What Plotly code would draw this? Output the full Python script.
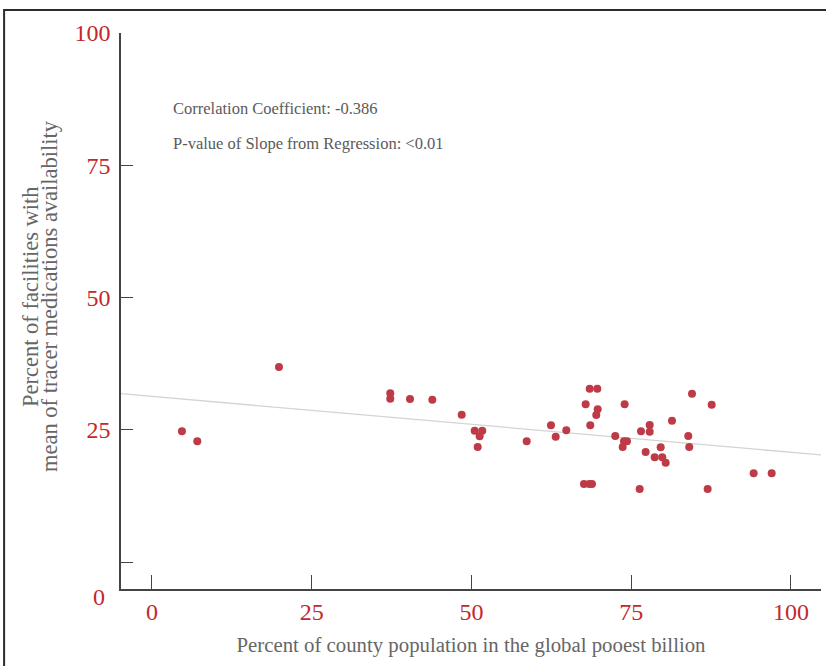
import plotly.graph_objects as go

# Share of each county's population in the global poorest billion (%)
pct_poorest_billion = [
    4.69, 7.09, 19.87, 37.29, 37.29, 40.38, 43.87, 48.47, 50.50, 51.69,
    51.28, 50.97, 58.64, 62.44, 63.18, 64.84, 67.87, 68.50, 69.69, 69.75,
    69.53, 68.59, 67.61, 68.44, 68.86, 73.97, 72.50, 73.87, 74.34, 73.66,
    76.53, 77.89, 77.89, 77.26, 78.67, 79.61, 79.86, 80.39, 76.32, 81.38,
    84.51, 87.59, 83.93, 84.08, 86.96, 94.16, 96.98,
]
# Percent of facilities with mean tracer medication availability
pct_facilities = [
    24.75, 22.87, 36.90, 31.93, 30.91, 30.86, 30.72, 27.89, 24.87, 24.87,
    23.81, 21.79, 22.87, 25.89, 23.73, 24.94, 29.86, 32.80, 32.80, 28.91,
    27.83, 25.89, 14.80, 14.80, 14.80, 29.86, 23.87, 22.87, 22.87, 21.79,
    24.75, 25.94, 24.68, 20.84, 19.84, 21.73, 19.84, 18.82, 13.85, 26.76,
    31.86, 29.78, 23.87, 21.79, 13.85, 16.82, 16.82,
]

# Fitted regression line
reg_intercept = 31.34
reg_slope = -0.1055

x_ticks = [0, 25, 50, 75, 100]
y_ticks = [0, 25, 50, 75, 100]
y_tick_text = ["", "25", "50", "75", "100"]

x_range = [-4.85, 104.7]
y_range = [-5.04, 100]

stats_lines = [
    "Correlation Coefficient: -0.386",
    "P-value of Slope from Regression: <0.01",
]
y_title_lines = [
    "Percent of facilities with",
    "mean of tracer medications availability",
]

FONT = "Liberation Serif, Times New Roman, serif"
RED = "#c4282d"
GREY = "#5a5a5a"
TITLE_GREY = "#666666"
AXIS = "#444444"

fig = go.Figure()

fig.add_trace(go.Scatter(
    x=x_range,
    y=[reg_intercept + reg_slope * v for v in x_range],
    mode="lines",
    line=dict(color="#d4d4d4", width=1.3),
    hoverinfo="skip",
    showlegend=False,
))

fig.add_trace(go.Scatter(
    x=pct_poorest_billion,
    y=pct_facilities,
    mode="markers",
    marker=dict(color="#bf3a47", size=8, line=dict(width=0)),
    showlegend=False,
))

fig.update_layout(
    width=826,
    height=666,
    margin=dict(l=121, r=5, t=33, b=77),
    paper_bgcolor="white",
    plot_bgcolor="white",
    font=dict(family=FONT, color=GREY),
    xaxis=dict(
        range=x_range,
        tickvals=x_ticks,
        ticks="inside",
        ticklen=14,
        tickwidth=1,
        tickcolor=AXIS,
        showline=True,
        linecolor=AXIS,
        linewidth=1.5,
        showgrid=False,
        zeroline=False,
        tickfont=dict(family=FONT, size=24, color=RED),
        ticklabelstandoff=0,
        title=dict(
            text="Percent of county population in the global pooest billion",
            font=dict(family=FONT, size=20.8, color=TITLE_GREY),
            standoff=14,
        ),
    ),
    yaxis=dict(
        range=y_range,
        tickvals=y_ticks,
        ticktext=y_tick_text,
        ticks="inside",
        ticklen=12,
        tickwidth=1,
        tickcolor=AXIS,
        showline=True,
        linecolor=AXIS,
        linewidth=1.5,
        showgrid=False,
        zeroline=False,
        tickfont=dict(family=FONT, size=24, color=RED),
        ticklabelstandoff=4,
    ),
)

# Vertical axis title, one rotated line per annotation
for i, line in enumerate(y_title_lines):
    fig.add_annotation(
        x=-0.1286 + i * 0.0272, y=0.527, xref="paper", yref="paper",
        text=line, textangle=-90, showarrow=False,
        xanchor="center", yanchor="middle",
        font=dict(family=FONT, size=22.5, color=TITLE_GREY),
    )

# Zero label of the vertical axis, sitting below the axis corner
fig.add_annotation(
    x=-0.0314, y=-0.0144, xref="paper", yref="paper",
    text="0", showarrow=False, xanchor="center", yanchor="middle",
    font=dict(family=FONT, size=24, color=RED),
)

# Statistics text
for i, line in enumerate(stats_lines):
    fig.add_annotation(
        x=0.0714, y=0.8651 - i * 0.063, xref="paper", yref="paper",
        text=line, showarrow=False, xanchor="left", yanchor="middle",
        font=dict(family=FONT, size=16.5, color=GREY),
    )

# Dark frame around the figure
fig.add_shape(
    type="path", xref="paper", yref="paper",
    path="M -0.167,-0.3 L -0.167,1.0414 L 1.2,1.0414",
    line=dict(color="#2b2b2b", width=2),
)

fig.write_html("out.html")
